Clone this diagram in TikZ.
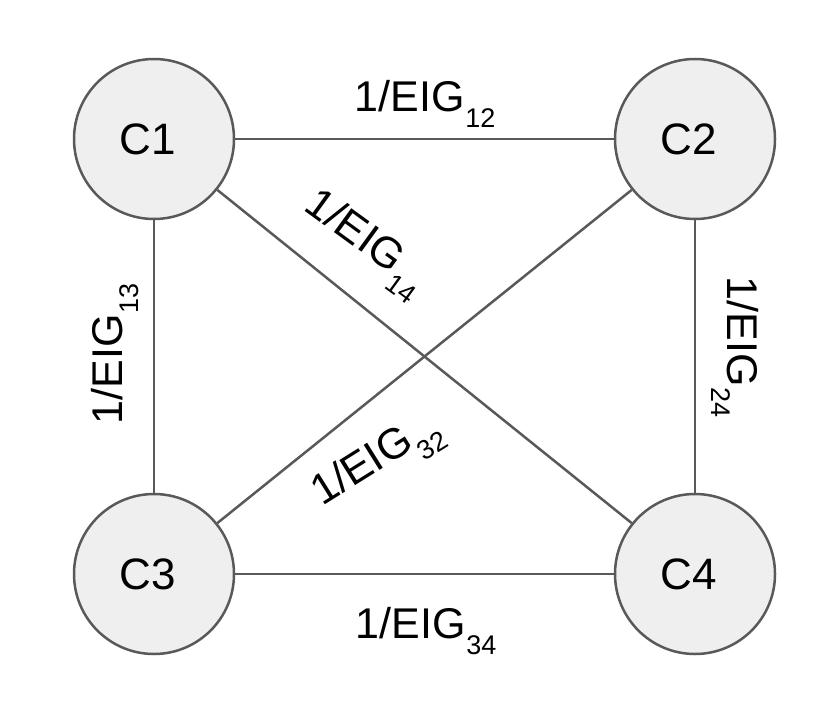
\documentclass[tikz,border=0pt]{standalone}
\usepackage{fontspec}
\setmainfont{Liberation Sans}
\definecolor{linegray}{HTML}{595959}
\definecolor{nodefill}{HTML}{EFEFEF}
\newcommand{\eig}[1]{1/EIG\kern1pt\raisebox{-16pt}{\fontsize{27}{29}\selectfont #1}}
\newcommand{\cname}[1]{#1\kern12pt}
\begin{document}
\begin{tikzpicture}[x=1pt,y=-1pt,
  cnode/.style={circle,draw=linegray,fill=nodefill,line width=2.5pt,minimum size=160pt,inner sep=0pt,font=\fontsize{44}{50}\selectfont},
  edge/.style={draw=linegray,line width=2.5pt},
  lbl/.style={anchor=base,inner sep=0pt,font=\fontsize{43}{50}\selectfont}]
\useasboundingbox (0,0) rectangle (834,722);
\node[cnode] (C1) at (154,139) {\cname{C1}};
\node[cnode] (C2) at (695,139) {\cname{C2}};
\node[cnode] (C3) at (154,574) {\cname{C3}};
\node[cnode] (C4) at (695,574) {\cname{C4}};
\draw[edge] (C1) -- (C2);
\draw[edge] (C3) -- (C4);
\draw[edge] (C1) -- (C3);
\draw[edge] (C2) -- (C4);
\draw[edge] (C1) -- (C4);
\draw[edge] (C3) -- (C2);
\node[lbl] (L12) at (425,112) {\eig{12}};
\node[lbl] (L34) at (426,638) {\eig{34}};
\node[lbl,rotate=90] (L13) at (122,354) {\eig{13}};
\node[lbl,rotate=-90] (L24) at (727,347) {\eig{24}};
\node[lbl,rotate=-36] (L14) at (360,251) {\eig{14}};
\node[lbl,rotate=32] (L32) at (382,469) {\eig{32}};
\end{tikzpicture}
\end{document}
